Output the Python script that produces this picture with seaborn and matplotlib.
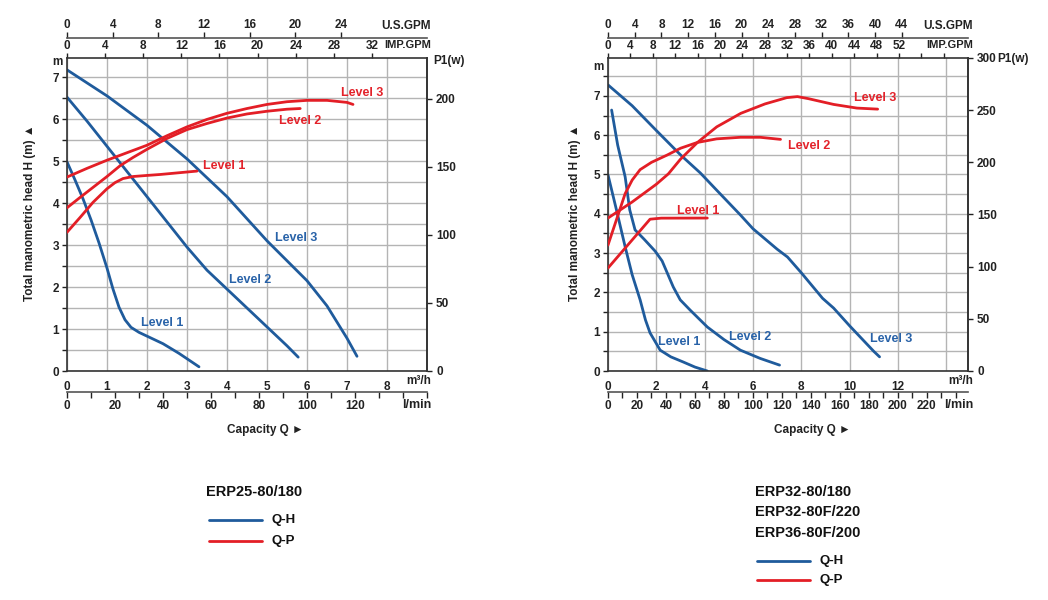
import matplotlib
matplotlib.use("Agg")
import matplotlib.pyplot as plt
import seaborn as sns
import pandas as pd

# ---------------- data (left chart: ERP25-80/180) ----------------
L_qh3_q = [0, 1, 2, 3, 4, 5, 6, 6.5, 7, 7.25]
L_qh3_h = [7.17, 6.55, 5.85, 5.05, 4.15, 3.1, 2.15, 1.55, 0.78, 0.35]
L_qh2_q = [0, 0.5, 1, 1.5, 2, 2.5, 3, 3.5, 4, 4.5, 5, 5.5, 5.78]
L_qh2_h = [6.52, 5.95, 5.35, 4.75, 4.15, 3.55, 2.95, 2.4, 1.95, 1.5, 1.05, 0.6, 0.33]
L_qh1_q = [0, 0.2, 0.4, 0.6, 0.8, 1.0, 1.15, 1.3, 1.45, 1.6, 1.8, 2.0, 2.4, 2.8, 3.3]
L_qh1_h = [4.98, 4.55, 4.1, 3.6, 3.05, 2.45, 1.95, 1.52, 1.22, 1.04, 0.92, 0.83, 0.65, 0.42, 0.1]
L_qp3_q = [0, 0.5, 1, 1.5, 2, 2.5, 3, 3.5, 4, 4.5, 5, 5.5, 6, 6.5, 7, 7.15]
L_qp3_p = [142.6, 149, 155, 160.5, 166, 173, 179.5, 185, 189.5, 193, 196, 198, 199, 199, 197.5, 196]
L_qp2_q = [0, 0.3, 0.65, 1.0, 1.33, 1.65, 2, 2.5, 3, 3.5, 4, 4.5, 5, 5.5, 5.83]
L_qp2_p = [120, 127, 135, 143, 151, 157, 163, 171, 177.5, 182, 186, 189, 191, 192.5, 193]
L_qp1_q = [0, 0.33, 0.65, 1.0, 1.2, 1.4, 1.65, 2.0, 2.33, 3.25]
L_qp1_p = [102, 113, 124, 134, 138.5, 141.5, 143, 143.8, 144.5, 147]

# ---------------- data (right chart: ERP32/36) ----------------
R_qh3_q = [0, 1, 2, 3, 3.82, 4.5, 5.48, 6, 7, 7.43, 8, 8.88, 9.34, 10, 11, 11.24]
R_qh3_h = [7.28, 6.75, 6.12, 5.5, 5.04, 4.6, 3.97, 3.62, 3.1, 2.9, 2.5, 1.85, 1.6, 1.15, 0.5, 0.36]
R_qh2_q = [0.15, 0.4, 0.71, 0.9, 1.12, 1.5, 1.95, 2.24, 2.7, 2.99, 3.4, 4.11, 4.8, 5.48, 6.3, 7.1]
R_qh2_h = [6.64, 5.75, 4.94, 4.1, 3.59, 3.35, 3.05, 2.8, 2.14, 1.81, 1.55, 1.12, 0.8, 0.53, 0.32, 0.15]
R_qh1_q = [0, 0.35, 0.71, 1.0, 1.33, 1.55, 1.74, 2.16, 2.6, 3.11, 3.6, 4.11]
R_qh1_h = [4.99, 4.1, 3.16, 2.45, 1.81, 1.3, 0.97, 0.53, 0.36, 0.23, 0.1, 0.0]
R_qp3_q = [0, 1, 2, 2.5, 3, 3.7, 4.5, 5.5, 6.5, 7.4, 7.84, 8.3, 9.34, 10.3, 11.16]
R_qp3_p = [146.6, 162, 179, 189, 203, 219, 234, 247, 256, 262, 263, 261, 255.5, 252, 251]
R_qp2_q = [0, 0.35, 0.71, 1.0, 1.33, 1.8, 2.45, 3.0, 3.69, 4.5, 5.48, 6.3, 7.14]
R_qp2_p = [120.7, 145, 170, 183, 193, 200, 207, 213.5, 219, 222.5, 224, 224, 222]
R_qp1_q = [0, 1.74, 2.2, 4.11]
R_qp1_p = [98.7, 145.5, 146.5, 146.6]

L_model = ["ERP25-80/180"]
R_model = ["ERP32-80/180", "ERP32-80F/220", "ERP36-80F/200"]

BLUE = "#1f5b9c"
RED = "#e31e26"
BLUE_T = "#2862a8"
RED_T = "#e3222a"
GRID = "#b4b4b4"

sns.set_theme(style="white")
plt.rcParams["font.family"] = ["Liberation Sans", "DejaVu Sans"]
plt.rcParams["font.weight"] = "bold"
plt.rcParams["axes.labelweight"] = "bold"

W, H = 1048, 600
fig = plt.figure(figsize=(W / 100, H / 100), dpi=100)


def fx(px):
    return px / W


def fy(py):
    return 1 - py / H


def setup(left_px, xmax, hmax, pmax, xticks, xticklabels, xgrid, pticks, pticklabels,
          us_k, us_ticks, imp_k, imp_ticks, imp_extra, lmin_ticks_major, lmin_lbls, lmin_minor):
    ax = fig.add_axes([fx(left_px), fy(371), fx(360), 313 / H])
    ax.set_xlim(0, xmax)
    ax.set_ylim(0, hmax)
    ax.set_xticks(xticks)
    ax.set_xticklabels(xticklabels)
    ax.set_xticks(xgrid, minor=True)
    ax.set_yticks(range(0, 8))
    ax.set_yticks([i * 0.5 for i in range(1, int(hmax * 2) + 1)], minor=True)
    ax.grid(True, which="both", color=GRID, lw=1.0)
    ax.tick_params(axis="both", which="both", direction="out", length=3.5, width=1,
                   labelsize=8.5, pad=2, colors="#222222")
    ax.tick_params(axis="x", which="minor", length=0)
    ax.tick_params(axis="x", which="major", pad=4)
    for s in ax.spines.values():
        s.set_color("#333333")
        s.set_linewidth(1.2)

    axp = ax.twinx()
    axp.set_ylim(0, pmax)
    axp.set_yticks(pticks)
    axp.set_yticklabels(pticklabels)
    axp.tick_params(axis="y", direction="out", length=3.5, width=1, labelsize=8.5, pad=3, colors="#222222")
    for s in axp.spines.values():
        s.set_visible(False)
    axp.spines["right"].set_visible(True)
    axp.spines["right"].set_color("#333333")
    axp.spines["right"].set_linewidth(1.2)
    axp.grid(False)

    # IMP.GPM on top spine
    ai = ax.secondary_xaxis("top", functions=(lambda x: x / imp_k, lambda x: x * imp_k))
    ai.set_xticks(imp_ticks + imp_extra)
    ai.set_xticklabels([str(t) for t in imp_ticks] + [""] * len(imp_extra))
    ai.tick_params(direction="out", length=3.5, width=1, labelsize=8.5, pad=1, colors="#222222")
    ai.spines["top"].set_visible(False)

    # U.S.GPM axis above
    au = ax.secondary_xaxis(1 + 20 / 313, functions=(lambda x: x / us_k, lambda x: x * us_k))
    au.set_xticks(us_ticks)
    au.set_xticklabels([str(t) for t in us_ticks])
    au.tick_params(direction="out", length=4, width=1, labelsize=8.5, pad=1, colors="#222222")
    au.spines["top"].set_color("#555555")
    au.spines["top"].set_linewidth(1.2)

    # l/min axis below
    al = ax.secondary_xaxis(-21 / 313, functions=(lambda x: x * 16.667, lambda x: x / 16.667))
    al.set_xticks(lmin_ticks_major)
    al.set_xticklabels(lmin_lbls)
    al.set_xticks(lmin_minor, minor=True)
    al.tick_params(which="both", direction="out", length=4, width=1, labelsize=8.5, pad=2, colors="#222222")
    al.spines["bottom"].set_color("#555555")
    al.spines["bottom"].set_linewidth(1.2)
    return ax, axp


def draw(ax, q, v, color):
    df = pd.DataFrame({"q": q, "v": v})
    sns.lineplot(data=df, x="q", y="v", ax=ax, color=color, lw=2.0, sort=False, estimator=None)
    ax.set_xlabel("")
    ax.set_ylabel("")


# ---------- left chart ----------
axL, axLp = setup(
    67, 9.0, 313 / 42, 313 / 1.36,
    list(range(0, 9)), [str(i) for i in range(0, 9)], list(range(0, 10)),
    [0, 50, 100, 150, 200], ["0", "50", "100", "150", "200"],
    11.42 / 40, [0, 4, 8, 12, 16, 20, 24],
    9.53 / 40, [0, 4, 8, 12, 16, 20, 24, 28, 32], [],
    [0, 20, 40, 60, 80, 100, 120], ["0", "20", "40", "60", "80", "100", "120"],
    [10, 30, 50, 70, 90, 110, 130, 140, 150],
)
draw(axL, L_qh3_q, L_qh3_h, BLUE)
draw(axL, L_qh2_q, L_qh2_h, BLUE)
draw(axL, L_qh1_q, L_qh1_h, BLUE)
draw(axLp, L_qp3_q, L_qp3_p, RED)
draw(axLp, L_qp2_q, L_qp2_p, RED)
draw(axLp, L_qp1_q, L_qp1_p, RED)
axLp.set_ylim(0, 313 / 1.36)
axL.set_xlim(0, 9.0)

for (x, y, t, c) in [(7.38, 6.62, "Level 3", RED_T), (5.83, 5.95, "Level 2", RED_T),
                     (3.93, 4.88, "Level 1", RED_T), (5.73, 3.17, "Level 3", BLUE_T),
                     (4.58, 2.17, "Level 2", BLUE_T), (2.38, 1.14, "Level 1", BLUE_T)]:
    axL.text(x, y, t, color=c, fontsize=9, fontweight="bold", ha="center", va="center", zorder=5)

# ---------- right chart ----------
axR, axRp = setup(
    608, 14.9, 313 / 39.3, 300,
    list(range(0, 15, 2)), ["0", "2", "4", "6", "8", "10", "12", ""], list(range(0, 15, 2)),
    [0, 50, 100, 150, 200, 250, 300], ["0", "50", "100", "150", "200", "250", "300"],
    6.66 / 24.1, [0, 4, 8, 12, 16, 20, 24, 28, 32, 36, 40, 44],
    5.58 / 24.1, [0, 4, 8, 12, 16, 20, 24, 28, 32, 36, 40, 44, 48, 52], [56, 60],
    [0, 20, 40, 60, 80, 100, 120, 140, 160, 180, 200, 220],
    ["0", "20", "40", "60", "80", "100", "120", "140", "160", "180", "200", "220"],
    [10, 30, 50, 70, 90, 110, 130, 150, 170, 190, 210, 230, 240],
)
draw(axR, R_qh3_q, R_qh3_h, BLUE)
draw(axR, R_qh2_q, R_qh2_h, BLUE)
draw(axR, R_qh1_q, R_qh1_h, BLUE)
draw(axRp, R_qp3_q, R_qp3_p, RED)
draw(axRp, R_qp2_q, R_qp2_p, RED)
draw(axRp, R_qp1_q, R_qp1_p, RED)
axRp.set_ylim(0, 300)
axR.set_xlim(0, 14.9)

for (x, y, t, c) in [(11.04, 6.95, "Level 3", RED_T), (8.34, 5.73, "Level 2", RED_T),
                     (3.73, 4.07, "Level 1", RED_T), (2.95, 0.74, "Level 1", BLUE_T),
                     (5.89, 0.87, "Level 2", BLUE_T), (11.74, 0.81, "Level 3", BLUE_T)]:
    axR.text(x, y, t, color=c, fontsize=9, fontweight="bold", ha="center", va="center", zorder=5)

# ---------- axis texts ----------
TXT = dict(fontsize=8.5, fontweight="bold", color="#222222")
for r in [431, 973]:
    fig.text(fx(r), fy(26), "U.S.GPM", ha="right", va="center", **TXT)
    fig.text(fx(r), fy(45), "IMP.GPM", ha="right", va="center", fontsize=8, fontweight="bold", color="#222222")
    fig.text(fx(r), fy(381), "m³/h", ha="right", va="center", **TXT)
    fig.text(fx(r), fy(405), "l/min", ha="right", va="center", fontsize=9, fontweight="bold", color="#222222")

fig.text(fx(57), fy(62), "m", ha="center", va="center", **TXT)
fig.text(fx(598), fy(67), "m", ha="center", va="center", **TXT)
fig.text(fx(449), fy(61), "P1(w)", ha="center", va="center", **TXT)
fig.text(fx(1013), fy(59), "P1(w)", ha="center", va="center", **TXT)

fig.text(fx(265), fy(430), "Capacity Q ►", ha="center", va="center", **TXT)
fig.text(fx(812), fy(430), "Capacity Q ►", ha="center", va="center", **TXT)
fig.text(fx(30), fy(213), "Total manometric head H (m) ▲", rotation=90, ha="center", va="center", **TXT)
fig.text(fx(575), fy(213), "Total manometric head H (m) ▲", rotation=90, ha="center", va="center", **TXT)

# ---------- legends ----------
LEG = dict(fontsize=10.5, fontweight="bold", color="#111111")
for i, m in enumerate(L_model):
    fig.text(fx(206), fy(492 + i * 21), m, ha="left", va="center", **LEG)
for i, m in enumerate(R_model):
    fig.text(fx(755), fy(492 + i * 20.5), m, ha="left", va="center", **LEG)

for (x0, x1, ty, c, lab) in [(209, 262, 520, BLUE, "Q-H"), (209, 262, 541, RED, "Q-P"),
                             (757, 810, 561, BLUE, "Q-H"), (757, 810, 580, RED, "Q-P")]:
    fig.add_artist(plt.Line2D([fx(x0), fx(x1)], [fy(ty), fy(ty)], color=c, lw=2.0,
                              transform=fig.transFigure))
    fig.text(fx(x1 + 10), fy(ty), lab, ha="left", va="center", fontsize=9.5, fontweight="bold", color="#111111")

fig.savefig("out.png", dpi=100, facecolor="white")
